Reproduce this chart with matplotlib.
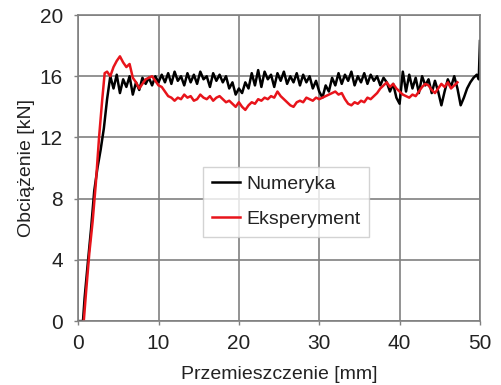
import numpy as np
import matplotlib.pyplot as plt

plt.rcParams['font.family'] = ['Liberation Sans', 'DejaVu Sans']

# Numeryka (czarna)
x_num_start = [0.0, 0.6, 0.8, 1.2, 1.6, 2.0, 2.4, 2.8, 3.2, 3.6]
y_num_start = [0.0, 0.0, 1.5, 3.8, 6.0, 8.5, 10.0, 11.2, 12.6, 14.5]
y_num_main = [
    16.0, 15.2, 16.1, 14.9, 15.8, 15.3, 16.0, 14.8, 15.6, 15.1, 15.9, 15.5, 15.9, 15.4, 16.0, 15.6,
    16.1, 15.6, 16.2, 15.5, 16.3, 15.7, 16.0, 15.4, 16.2, 15.6, 16.1, 15.5, 16.3, 15.8, 16.0, 15.3,
    16.2, 15.7, 16.1, 15.6, 16.0, 15.2, 15.6, 14.8, 15.2,
    14.9, 15.6, 15.2, 16.2, 15.4, 16.4, 15.3, 16.3, 15.8, 16.1, 15.3, 16.2, 15.7, 16.3, 15.5,
    16.0, 15.6, 16.2, 15.4, 16.1, 15.6, 16.0, 15.2, 15.7, 15.0,
    14.6, 15.4, 15.0, 15.9, 15.4, 16.2, 15.5, 16.1, 15.7, 16.3, 15.4, 16.0, 15.6, 16.2, 15.5,
    16.1, 15.7, 16.0, 15.4, 15.9, 15.6, 15.0, 15.5, 14.6, 14.2,
    16.3, 15.0, 16.1, 15.2, 15.9, 14.9, 16.0, 15.4, 15.8, 14.9, 15.7, 15.0, 14.1, 15.0, 15.8,
    15.3, 16.0, 15.2, 14.1, 14.6, 15.2, 15.6, 15.9, 16.1,
]
x_num_end = [49.85, 50.0]
y_num_end = [15.8, 18.3]

# Eksperyment (czerwona)
x_exp_start = [0.7, 1.0, 1.4, 1.8, 2.2, 2.6, 3.0, 3.3, 3.6]
y_exp_start = [0.0, 2.0, 4.5, 6.5, 9.0, 12.0, 14.5, 16.2, 16.3]
y_exp_main = [
    16.0, 16.6, 17.0, 17.3, 16.9, 16.6, 16.8, 15.9, 15.6, 15.2, 15.5, 15.8, 15.9, 16.0, 15.7,
    15.4, 15.3, 15.0, 14.7, 14.6, 14.4, 14.6, 14.5, 14.8, 14.6, 14.7, 14.4, 14.5, 14.8, 14.6,
    14.5, 14.7, 14.4, 14.6, 14.7, 14.5, 14.3, 14.4, 14.2, 14.0, 14.3,
    14.0, 13.8, 14.1, 14.3, 14.2, 14.5, 14.4, 14.6, 14.5, 14.7, 14.6, 15.0, 14.7, 14.5, 14.3,
    14.1, 14.0, 14.3, 14.4, 14.3, 14.6, 14.5, 14.4, 14.6, 14.5,
    14.6, 14.7, 14.8, 14.9, 15.0, 14.8, 14.9, 14.5, 14.2, 14.1, 14.3, 14.2, 14.4, 14.3, 14.6,
    14.5, 14.7, 14.9, 15.2, 15.4, 15.6, 15.3, 15.5, 15.2, 15.0,
    14.8, 14.7, 14.6, 14.8, 14.7, 15.0, 15.3, 15.5, 15.4, 15.1, 14.9, 15.2, 15.5, 15.3, 15.6,
    15.2, 15.4, 15.6,
]

x_num = np.concatenate([x_num_start, 4.0 + 0.4 * np.arange(len(y_num_main)), x_num_end])
y_num = np.concatenate([y_num_start, y_num_main, y_num_end])
x_exp = np.concatenate([x_exp_start, 4.0 + 0.4 * np.arange(len(y_exp_main))])
y_exp = np.concatenate([y_exp_start, y_exp_main])

fig = plt.figure(figsize=(5.01, 3.85), dpi=100)
ax = fig.add_axes([0.156, 0.166, 0.802, 0.795])

ax.plot(x_num, y_num, color='black', lw=1.8, label='Numeryka')
ax.plot(x_exp, y_exp, color='#e8141b', lw=1.8, label='Eksperyment')

ax.set_xlim(0, 50)
ax.set_ylim(0, 20)
ax.set_xticks(range(0, 51, 10))
ax.set_yticks(range(0, 21, 4))
ax.grid(True, color='#808080', lw=1.2)
ax.set_axisbelow(True)
for s in ax.spines.values():
    s.set_color('#808080')
    s.set_linewidth(1.2)
ax.tick_params(length=3, width=1.0, color='#808080', labelsize=15,
               labelcolor='#222222')
ax.tick_params(axis='y', pad=8)
ax.tick_params(axis='x', pad=6)

ax.set_xlabel('Przemieszczenie [mm]', fontsize=14, labelpad=10, color='#222222')
ax.set_ylabel('Obciążenie [kN]', fontsize=14, labelpad=3, color='#222222')

leg = ax.legend(loc='upper left', bbox_to_anchor=(0.311, 0.505), fontsize=14,
                frameon=True, fancybox=False, handlelength=1.45, handletextpad=0.3,
                borderpad=0.45, labelspacing=0.9, borderaxespad=0)
leg.get_frame().set_edgecolor('#c8c8c8')
leg.get_frame().set_linewidth(1.0)
for t in leg.get_texts():
    t.set_color('#222222')

fig.savefig('out.png', dpi=100)
